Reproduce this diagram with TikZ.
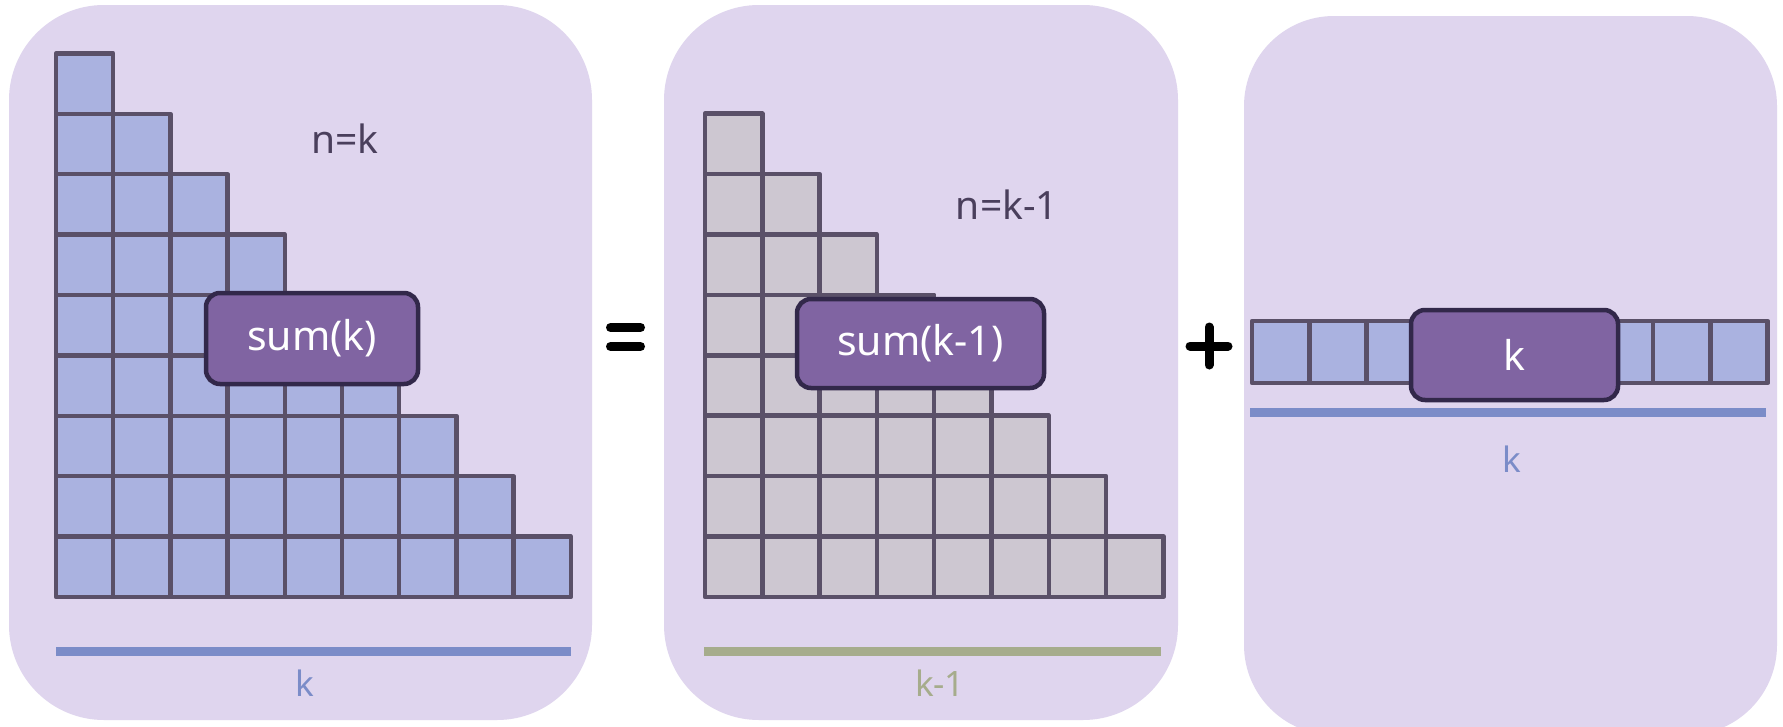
\documentclass[tikz,border=0pt]{standalone}
\usepackage{fontspec}
\setmainfont{Noto Sans}
\definecolor{panelbg}{HTML}{DFD5EE}
\definecolor{cellblue}{HTML}{AAB2E0}
\definecolor{cellgrey}{HTML}{CDC7D1}
\definecolor{cellline}{HTML}{5A5068}
\definecolor{boxfill}{HTML}{8064A2}
\definecolor{boxline}{HTML}{32284A}
\definecolor{lineblue}{HTML}{7B8CC8}
\definecolor{linegreen}{HTML}{A6AC8C}
\definecolor{textdark}{HTML}{4A3F5C}
\tikzset{
  panel/.style={fill=panelbg, rounded corners=95pt},
  bluecell/.style={fill=cellblue, draw=cellline, line width=4.5pt, line join=round},
  greycell/.style={fill=cellgrey, draw=cellline, line width=4.5pt, line join=round},
  sumbox/.style={fill=boxfill, draw=boxline, line width=4.5pt, rounded corners=14pt,
    text=white, font=\fontsize{41}{49}\selectfont, inner sep=0pt},
  baseline/.style={line width=9pt},
  lbl/.style={font=\fontsize{35}{42}\selectfont, inner sep=0pt},
  nlbl/.style={font=\fontsize{39}{47}\selectfont, text=textdark, inner sep=0pt},
  opbar/.style={line width=9pt, line cap=round, black}
}
\begin{document}
\begin{tikzpicture}[x=1pt,y=-1pt]
\useasboundingbox (0,0) rectangle (1783,726);
\clip (0,0) rectangle (1783,726);
\fill[white] (0,0) rectangle (1783,726);
% panels
\fill[panel] (9,5) rectangle (592,720);
\fill[panel] (664,5) rectangle (1178,720);
\fill[panel, rounded corners=90pt] (1244,16) rectangle (1777,735);
% panel 1 staircase
\foreach \c in {0,...,8} {
  \foreach \r in {\c,...,8} {
    \draw[bluecell] ({56+57.2*\c},{53.4+60.4*\r}) rectangle +(57.2,60.4);
  }
}
% panel 2 staircase
\foreach \c in {0,...,7} {
  \foreach \r in {\c,...,7} {
    \draw[greycell] ({705+57.3*\c},{113.7+60.4*\r}) rectangle +(57.3,60.4);
  }
}
% panel 3 row
\foreach \c in {0,...,8} {
  \draw[bluecell] ({1252+57.3*\c},321) rectangle +(57.3,62);
}
% labels n=
\node[nlbl] (n1) at (345,139) {n=k};
\node[nlbl] (n2) at (1007,205) {n=k-1};
% sum boxes
\node[sumbox, minimum width=212pt, minimum height=91pt] (s1) at (312,338.5) {sum(k)};
\node[sumbox, minimum width=247pt, minimum height=89pt] (s2) at (920.5,343.5) {sum(k-1)};
\node[sumbox, minimum width=207pt, minimum height=90pt] (s3) at (1514.5,355) {k};
% baselines
\coordinate (a1) at (56,651);
\coordinate (b1) at (571,651);
\coordinate (a2) at (704,651);
\coordinate (b2) at (1161,651);
\coordinate (a3) at (1250,412);
\coordinate (b3) at (1766,412);
\draw[baseline, lineblue] (a1) -- (b1);
\draw[baseline, linegreen] (a2) -- (b2);
\draw[baseline, lineblue] (a3) -- (b3);
\node[lbl, text=lineblue] (k1) at (305,683) {k};
\node[lbl, text=linegreen] (k2) at (940,683) {k-1};
\node[lbl, text=lineblue] (k3) at (1512,459) {k};
% operators
\coordinate (e1) at (610.5,327.5);
\coordinate (e2) at (640.5,327.5);
\coordinate (e3) at (610.5,346.5);
\coordinate (e4) at (640.5,346.5);
\draw[opbar] (e1) -- (e2);
\draw[opbar] (e3) -- (e4);
\coordinate (p1) at (1190,346);
\coordinate (p2) at (1228,346);
\coordinate (p3) at (1209,327);
\coordinate (p4) at (1209,365);
\draw[opbar] (p1) -- (p2);
\draw[opbar] (p3) -- (p4);
\end{tikzpicture}
\end{document}
